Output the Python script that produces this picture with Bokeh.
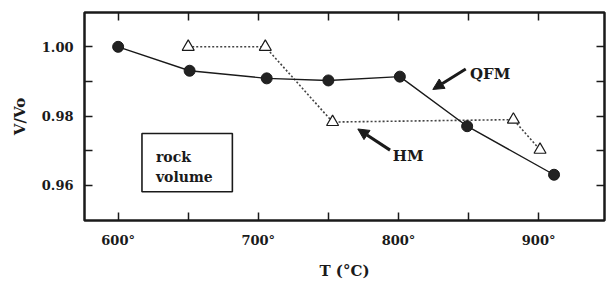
from bokeh.plotting import figure
from bokeh.models import (LinearAxis, FixedTicker, Range1d, Label, Arrow,
                          NormalHead, BoxAnnotation, ColumnDataSource)
from bokeh.embed import file_html
from bokeh.resources import INLINE

# ---- data ----
qfm_T = [600, 651, 706, 750, 801, 849, 911]
qfm_v = [1.000, 0.9931, 0.9909, 0.9903, 0.9914, 0.9771, 0.9631]
hm_T = [650, 705, 753, 882, 901]
hm_v = [1.000, 1.000, 0.9783, 0.9790, 0.9703]

x_major = [600, 700, 800, 900]
x_minor = [650, 750, 850]
x_labels = ["600°", "700°", "800°", "900°"]
y_major = [0.96, 0.98, 1.00]
y_minor = [0.97, 0.99]
y_labels = ["0.96", "0.98", "1.00"]

FONT = "DejaVu Serif"
INK = "#1a1a1a"

p = figure(width=606, height=282, output_backend="svg", toolbar_location=None,
           x_range=Range1d(576, 947), y_range=Range1d(0.9499, 1.0099),
           min_border_left=84, min_border_right=2, min_border_top=12,
           min_border_bottom=60, x_axis_location=None, y_axis_location=None)
p.grid.visible = False
p.outline_line_color = INK
p.outline_line_width = 2.5
p.background_fill_color = None
p.border_fill_color = None

def style_axis(ax):
    ax.axis_line_color = None
    ax.major_tick_in = 8
    ax.major_tick_out = 0
    ax.minor_tick_in = 8
    ax.minor_tick_out = 0
    ax.major_tick_line_color = INK
    ax.minor_tick_line_color = INK
    ax.major_tick_line_width = 1.5
    ax.minor_tick_line_width = 1.5
    ax.major_label_text_font = FONT
    ax.major_label_text_font_style = "bold"
    ax.major_label_text_font_size = "13px"
    ax.major_label_text_color = INK
    ax.axis_label_text_font = FONT
    ax.axis_label_text_font_style = "bold"
    ax.axis_label_text_color = INK

bottom = LinearAxis(ticker=FixedTicker(ticks=x_major, minor_ticks=x_minor),
                    axis_label="T (°C)")
bottom.major_label_overrides = {t: l for t, l in zip(x_major, x_labels)}
style_axis(bottom)
bottom.major_label_standoff = 12
bottom.axis_label_standoff = 11
bottom.axis_label_text_font_size = "15px"
p.add_layout(bottom, "below")

# top / right: tick marks only (all drawn as minor ticks -> no labels)
top = LinearAxis(ticker=FixedTicker(ticks=[], minor_ticks=x_major + x_minor))
style_axis(top)
p.add_layout(top, "above")

left = LinearAxis(ticker=FixedTicker(ticks=y_major, minor_ticks=y_minor),
                  axis_label="V/Vo")
left.major_label_overrides = {t: l for t, l in zip(y_major, y_labels)}
style_axis(left)
left.major_label_standoff = 11
left.axis_label_standoff = 10
left.axis_label_text_font_size = "15px"
p.add_layout(left, "left")

right = LinearAxis(ticker=FixedTicker(ticks=[], minor_ticks=y_major + y_minor))
style_axis(right)
p.add_layout(right, "right")

# ---- series ----
qsrc = ColumnDataSource(dict(T=qfm_T, v=qfm_v))
hsrc = ColumnDataSource(dict(T=hm_T, v=hm_v))

p.line("T", "v", source=hsrc, line_color="#444444", line_width=1.6,
       line_dash="2 2")
p.line("T", "v", source=qsrc, line_color=INK, line_width=1.4)
p.scatter("T", "v", source=qsrc, marker="circle", size=11,
          fill_color="#222222", line_color=INK)
p.scatter("T", "v", source=hsrc, marker="triangle", size=12,
          fill_color="white", line_color=INK, line_width=1.2)

# ---- annotations ----
def lab(x, y, s, size="15px"):
    p.add_layout(Label(x=x, y=y, text=s, text_font=FONT,
                       text_font_style="bold", text_font_size=size,
                       text_color=INK, text_baseline="alphabetic"))

lab(851, 0.9921, "QFM")
p.add_layout(Arrow(x_start=848, y_start=0.9936, x_end=824.5, y_end=0.9877,
                   line_width=3, line_color=INK,
                   end=NormalHead(size=11, fill_color=INK, line_color=INK)))
lab(796, 0.9685, "HM")
p.add_layout(Arrow(x_start=794, y_start=0.9702, x_end=771, y_end=0.9763,
                   line_width=3, line_color=INK,
                   end=NormalHead(size=11, fill_color=INK, line_color=INK)))

p.add_layout(BoxAnnotation(left=617, right=681.5, bottom=0.9582, top=0.9750,
                           fill_color=None, fill_alpha=0, line_color=INK,
                           line_alpha=1, line_width=1.6))
lab(627, 0.9683, "rock", "14px")
lab(627, 0.9625, "volume", "14px")

open("out.html", "w").write(file_html(p, INLINE))
